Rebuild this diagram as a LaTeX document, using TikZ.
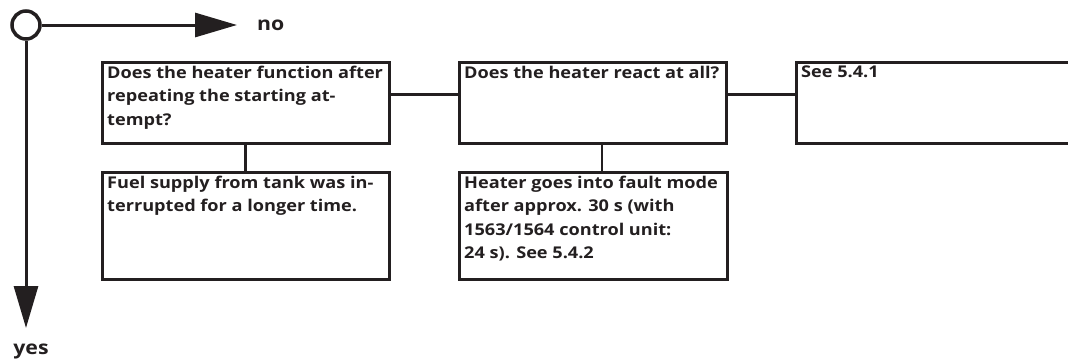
\documentclass[tikz,border=0pt]{standalone}
\usepackage{fontspec}
\setmainfont{Open Sans}[FakeStretch=1.12]
\usetikzlibrary{arrows.meta,calc}
\definecolor{ink}{HTML}{231F20}
\tikzset{
  boxframe/.style={draw=ink, line width=3pt, rectangle, inner sep=0pt, outer sep=0pt, anchor=north west},
  boxtext/.style={anchor=north west, inner sep=0pt, align=left, text=ink,
    font=\fontsize{16.2}{23.3}\selectfont\bfseries},
  conn/.style={draw=ink, line width=2.6pt},
  flowarrow/.style={draw=ink, line width=3pt, -{Triangle[length=42pt,width=24pt]}},
  answer/.style={inner sep=0pt, text=ink, font=\fontsize{19}{22}\selectfont\bfseries},
}
\begin{document}
\begin{tikzpicture}[x=1pt,y=-1pt]
\useasboundingbox (0,0) rectangle (1068,362);
% start circle and main arrows
\node[circle, draw=ink, line width=3.5pt, minimum size=28pt, inner sep=0pt] (c) at (26,25) {};
\coordinate (notip) at (237,25);
\coordinate (yestip) at (26,328);
\draw[flowarrow] (c.east) -- (notip);
\draw[flowarrow] (c.south) -- (yestip);
\node[answer, anchor=west] (no) at (257,25) {no};
\node[answer, anchor=base] (yes) at (31,354) {yes};
% boxes
\node[boxframe, minimum width=287pt, minimum height=81pt] (b1) at (102,62) {};
\node[boxframe, minimum width=267pt, minimum height=81pt] (b2) at (459,62) {};
\node[boxframe, minimum width=300pt, minimum height=81pt] (b3) at (796,62) {};
\node[boxframe, minimum width=287pt, minimum height=107pt] (b4) at (102,172) {};
\node[boxframe, minimum width=268pt, minimum height=107pt] (b5) at (459,172) {};
% texts
\node[boxtext] (t1) at ($(b1.north west)+(5,4)$) {Does the heater function after\\repeating the starting at-\\tempt?};
\node[boxtext] (t2) at ($(b2.north west)+(5,4)$) {Does the heater react at all?};
\node[boxtext] (t3) at ($(b3.north west)+(5,4)$) {See 5.4.1};
\node[boxtext] (t4) at ($(b4.north west)+(5,4)$) {Fuel supply from tank was in-\\terrupted for a longer time.};
\node[boxtext] (t5) at ($(b5.north west)+(5,4)$) {Heater goes into fault mode\\after approx. 30 s (with\\1563/1564 control unit:\\24 s). See 5.4.2};
% connectors
\coordinate (r1) at ($(b1.north east)!0.4!(b1.south east)$);
\coordinate (r2) at ($(b2.north east)!0.4!(b2.south east)$);
\draw[conn] (r1) -- (r1 -| b2.west);
\draw[conn] (r2) -- (r2 -| b3.west);
\draw[conn] (b1.south) -- (b1.south |- b4.north);
\coordinate (d2) at ($(b2.south west)!0.535!(b2.south east)$);
\draw[conn] (d2) -- (d2 |- b5.north);
\end{tikzpicture}
\end{document}
